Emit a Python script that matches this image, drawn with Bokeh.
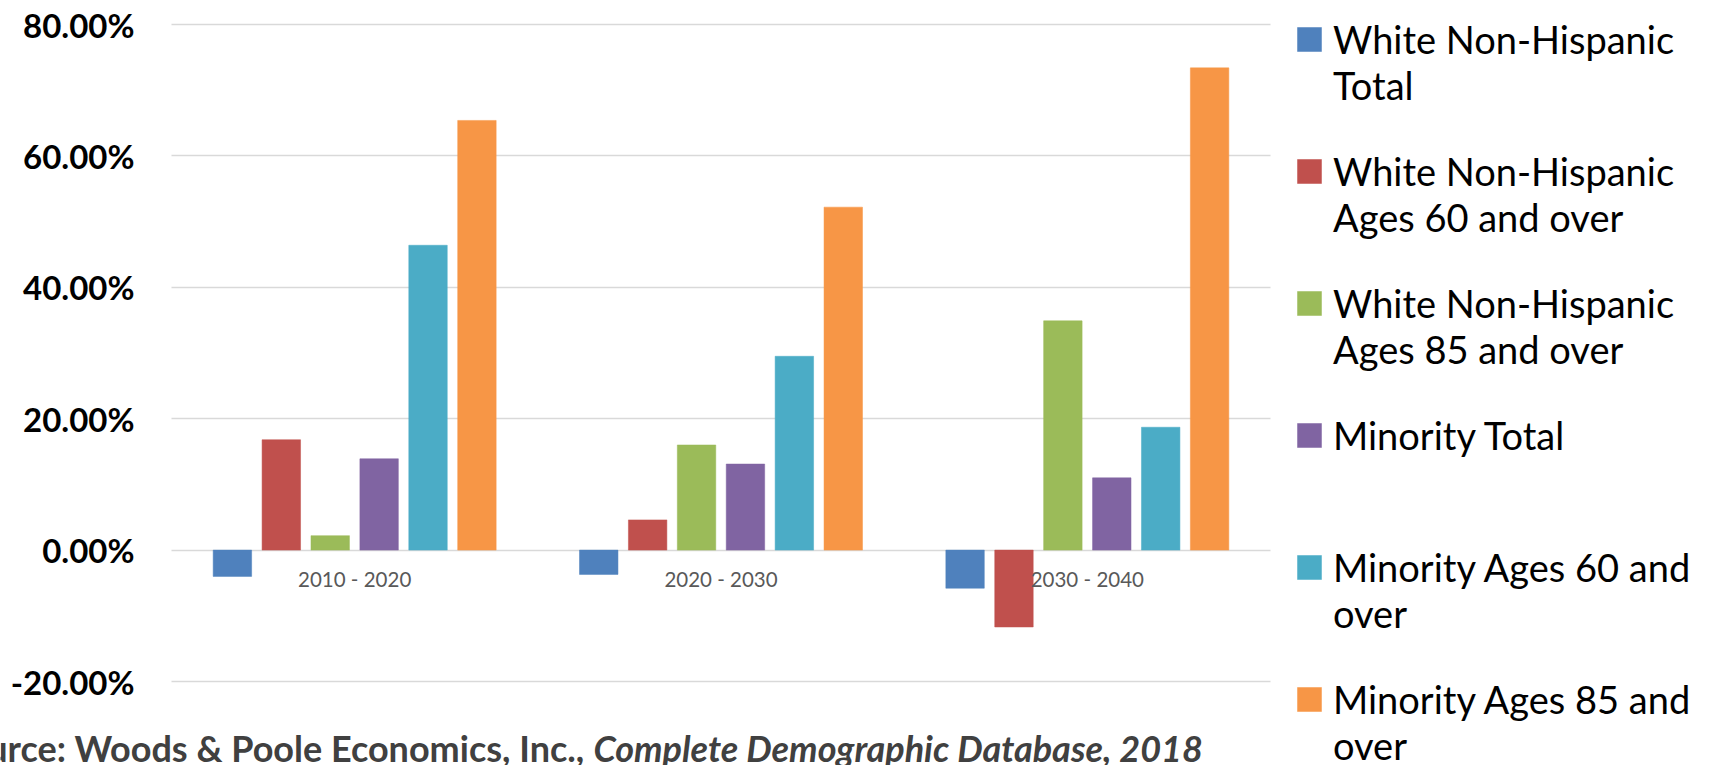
from bokeh.plotting import figure
from bokeh.models import (Range1d, FixedTicker, NumeralTickFormatter, Legend, LegendItem,
                          ColumnDataSource, Label, Grid)
from bokeh.embed import file_html
from bokeh.resources import INLINE

# ---------------- data ----------------
periods = ["2010 - 2020", "2020 - 2030", "2030 - 2040"]
legend_labels = [
    "White Non-Hispanic\nTotal",
    "White Non-Hispanic\nAges 60 and over",
    "White Non-Hispanic\nAges 85 and over",
    "Minority Total",
    "Minority Ages 60 and\nover",
    "Minority Ages 85 and\nover",
]
colors = ["#4F81BD", "#C0504D", "#9BBB59", "#8064A2", "#4BACC6", "#F79646"]
white_total = [-4.0, -3.7, -5.8]
white_60 = [16.8, 4.6, -11.7]
white_85 = [2.2, 16.0, 34.9]
minority_total = [13.9, 13.1, 11.0]
minority_60 = [46.4, 29.5, 18.7]
minority_85 = [65.4, 52.2, 73.4]
series_values = [white_total, white_60, white_85, minority_total, minority_60, minority_85]
y_ticks = [-20, 0, 20, 40, 60, 80]
source_plain = "Source: Woods & Poole Economics, Inc.,"
source_italic = "Complete Demographic Database, 2018"

# ---------------- layout constants (pixels) ----------------
W, H = 1719, 765
PLOT_LEFT, PLOT_RIGHT = 171, 1270        # plot area (category span)
Y_TOP_PX, Y_BOT_PX = 24, 681             # pixel rows of the top / bottom ticks
ncat = len(periods)
px_per_cat = (PLOT_RIGHT - PLOT_LEFT) / ncat
y_lo, y_hi = min(y_ticks) / 100, max(y_ticks) / 100
px_per_unit = (Y_BOT_PX - Y_TOP_PX) / (y_hi - y_lo)

x_range = Range1d(-PLOT_LEFT / px_per_cat, ncat + (W - PLOT_RIGHT) / px_per_cat)
y_range = Range1d(y_lo - (H - Y_BOT_PX) / px_per_unit, y_hi + Y_TOP_PX / px_per_unit)

p = figure(x_range=x_range, y_range=y_range, width=W, height=H,
           output_backend="svg", toolbar_location=None,
           min_border_left=0, min_border_right=0, min_border_top=0, min_border_bottom=0)
p.outline_line_color = None

# ---------------- bars ----------------
centers = [i + 0.5 for i in range(ncat)]
nser = len(series_values)
pitch, bar_w = 0.1335, 0.105
renderers = []
for i, (vals, col) in enumerate(zip(series_values, colors)):
    off = (i - (nser - 1) / 2) * pitch
    src = ColumnDataSource(dict(x=[c + off for c in centers], top=[v / 100 for v in vals]))
    r = p.vbar(x="x", top="top", bottom=0, width=bar_w, source=src,
               fill_color=col, line_color=col, line_width=0.5)
    renderers.append(r)

# ---------------- axes / grid ----------------
ticks = [t / 100 for t in y_ticks]
p.yaxis.fixed_location = 0
p.yaxis.ticker = FixedTicker(ticks=ticks)
p.yaxis.formatter = NumeralTickFormatter(format="0.00%")
p.yaxis.axis_line_color = None
p.yaxis.major_tick_line_color = None
p.yaxis.minor_tick_line_color = None
p.yaxis.major_tick_out = 0
p.yaxis.major_tick_in = 0
p.yaxis.major_label_standoff = 37
p.yaxis.major_label_text_font = "Lato"
p.yaxis.major_label_text_font_style = "bold"
p.yaxis.major_label_text_font_size = "33px"
p.yaxis.major_label_text_color = "black"

p.xaxis.fixed_location = 0
p.xaxis.ticker = FixedTicker(ticks=centers)
p.xaxis.major_label_overrides = {c: lab for c, lab in zip(centers, periods)}
p.xaxis.axis_line_color = None
p.xaxis.major_tick_line_color = None
p.xaxis.minor_tick_line_color = None
p.xaxis.major_tick_out = 0
p.xaxis.major_tick_in = 0
p.xaxis.major_label_standoff = 17
p.xaxis.major_label_text_font = "Lato"
p.xaxis.major_label_text_font_size = "20.5px"
p.xaxis.major_label_text_color = "#595959"

p.xgrid.visible = False
p.ygrid.ticker = FixedTicker(ticks=ticks)
p.ygrid.grid_line_color = "#D9D9D9"
p.ygrid.grid_line_width = 1.5
if "cross_bounds" in Grid.properties():
    p.ygrid.cross_bounds = (0, ncat)
else:
    p.ygrid.visible = False
    p.segment(x0=[0] * len(ticks), x1=[ncat] * len(ticks), y0=ticks, y1=ticks,
              line_color="#D9D9D9", line_width=1.5, level="underlay")

# ---------------- legend: one block per series ----------------
LEG_X = 1294          # left of glyph box
LEG_FIRST, LEG_PITCH = 39, 132   # centre of first square, spacing
ITEM_H = 150
for i, (lbl, r) in enumerate(zip(legend_labels, renderers)):
    lines = lbl.split("\n")
    text = " \n" + lbl if len(lines) > 1 else lbl
    yc = LEG_FIRST + i * LEG_PITCH
    leg = Legend(items=[LegendItem(label=text, renderers=[r])],
                 location=(LEG_X, H - (yc - ITEM_H / 2) - ITEM_H),
                 glyph_width=30, glyph_height=30, label_standoff=9,
                 label_height=ITEM_H, padding=0, margin=0, spacing=0,
                 border_line_color=None, background_fill_alpha=0,
                 label_text_font="Lato", label_text_font_size="38px",
                 label_text_color="black")
    p.add_layout(leg)

# ---------------- source note ----------------
p.add_layout(Label(x=584, y=18, x_units="screen", y_units="screen", text=source_plain,
                   text_align="right", text_baseline="alphabetic", text_font="Lato",
                   text_font_style="bold", text_font_size="36px", text_color="#404040"))
p.add_layout(Label(x=593, y=18, x_units="screen", y_units="screen", text=source_italic,
                   text_align="left", text_baseline="alphabetic", text_font="Lato",
                   text_font_style="bold italic", text_font_size="36px", text_color="#404040"))

open("out.html", "w").write(file_html(p, INLINE))
